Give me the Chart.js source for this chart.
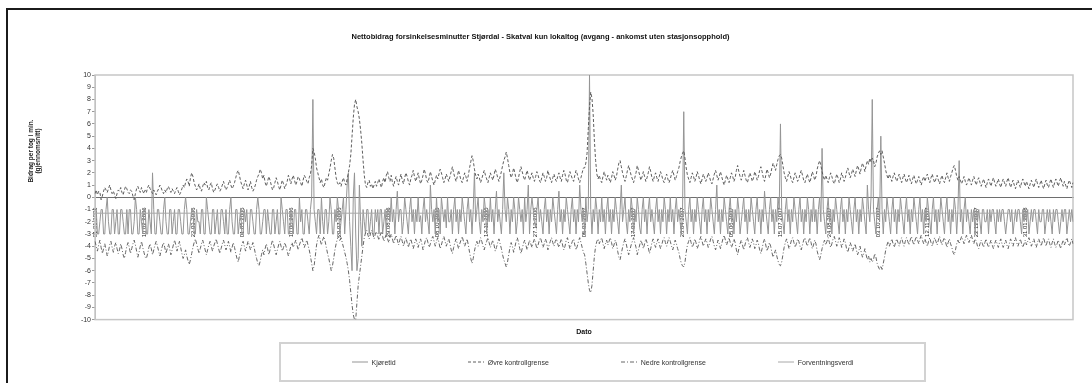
<!DOCTYPE html>
<html lang="no">
  <head>
    <meta charset="UTF-8" />
    <title>Nettobidrag forsinkelsesminutter Stjørdal - Skatval</title>
    <script src="https://cdn.jsdelivr.net/npm/chart.js"></script>
    <style>
      body { margin: 0; background: #fff; font-family: "Liberation Sans", Arial, sans-serif; }
      #frame {
        position: absolute; left: 6px; top: 8px; width: 1086px; height: 375px;
        border-top: 2px solid #1b1b1b; border-left: 2px solid #1b1b1b; box-sizing: border-box;
      }
      #wrap { position: relative; width: 1084px; height: 373px; }
      #legend {
        position: absolute; left: 279px; top: 342px; width: 647px; height: 40px;
        border: 2px solid #d2d2d2; box-sizing: border-box;
        display: flex; align-items: center; justify-content: center; gap: 72px;
        font-size: 7px; color: #333;
      }
      #legend span.item { display: flex; align-items: center; gap: 4px; }
    </style>
  </head>
  <body>
    <div id="frame">
      <div id="wrap"><canvas id="chart"></canvas></div>
    </div>
    <div id="legend"></div>

    <script>
      // daily observations, one date label every 40 days
      const startDate = new Date(2006, 0, 1);
      const labelEvery = 40;

      // Kjøretid (bidrag per tog, min)
      const kjoretid = [
        -1,-1,-3,-3,-2,-1,-1,-3,-3,-1,0,-2,-3,-3,-1,-1,-3,-2,-1,-3,
        -3,-1,-1,-2,-3,-3,-1,-3,-1,-1,-3,-3,-2,0,-1,-3,-3,-1,-2,-3,
        -1,-1,-3,-3,-1,-2,-3,2,-1,-3,-3,-1,-1,-2,-3,-3,-1,0,-2,-3,
        -3,-1,-1,-3,-2,-1,-3,-3,-1,-1,-2,-3,-3,-1,0,-1,-3,-3,-2,-1,
        -1,-3,-3,-1,-2,-2,-3,-1,-1,-3,-3,0,-1,-2,-3,-3,-1,-1,-3,-2,
        -1,-3,-3,-1,-1,-2,-3,-1,-3,-3,-1,0,-2,-3,-3,-1,-1,-3,-2,-1,
        -3,-3,-1,-2,-1,-3,-3,-1,-1,-2,-3,-3,-1,0,-1,-3,-3,-2,-1,-1,
        -3,-1,-2,-3,-3,-1,-1,-3,-2,-1,-3,-3,0,-1,-2,-3,-1,-1,-3,-3,
        -1,-2,-3,-1,-1,-3,-3,0,-2,-1,-3,-3,-1,-1,-2,-3,-1,0,8,-1,
        -2,-3,-1,-1,-3,0,-2,-3,-1,-1,-3,-2,0,-1,-3,-3,-1,-2,0,-1,
        -3,-2,-1,0,-3,-1,1,2,-2,-4,-6,0,2,-3,-6,-5,1,-2,-4,-1,
        -2,-3,-1,-1,-3,-2,-1,-3,-3,-1,-2,-1,-3,-1,-1,-3,-2,-1,-3,-1,
        -1,-2,0,-2,-1,-3,-1,0.5,-2,-1,-1,-3,-2,0,-1,-2,-3,-1,0,-2,
        -1,-3,-1,-2,0,-2,-1.5,-3,-1,0,-2,-1,-2,-3,1,-1,-2,-1,-3,0,
        -2,-1,-3,0,-1,-2,-1,-2.5,0,-2,-2,-1,-3,-1,0,-2,-1,-3,-1,-2,
        0,-1,-2,-3,-1,0,-2,-1,-3,-1,2,-2,-1,0,-2,-3,-1,-2,0,-1,
        -3,-1,-2,0,-2,-1,-3,-1,0.5,-2,-1,-2,-3,-1,2,-1,-2,0,-1,-3,
        -1,-2,0,-1,-3,-2,0,-1,-2,-1,-3,0,-2,-1,1,-3,-1,0,-1,-2,
        -2.5,-1,0,-2,-1,-2,-3,-1,0,-2,-1,-3,-1,-2,0,-1,-2,-3,-1,0.5,
        -2,-1,-3,-1,-2,0,-1,-2,-3,-1,0,-2,-1,-3,-1,-2,1,-1,-2,-1,
        -3,0,-2,-1,10,-1,-3,-1,-2,0,-1,-3,-1,-2,0,-2,-1,-3,-1,0,
        -2,-1,-3,-1,-2,0,-1,-2,-3,-1,1,-2,-1,0,-2,-3,-1,-2,0,-1,
        -3,-1,-2,0,-1,-2.5,-3,-1,0,-2,-1,-3,-1,0,-2,-1,-2,-3,-1,0,
        -2,-1,-3,-1,-2,0,-1,-3,-1,-2,0,-2,-1,-3,-1,0,-2,-1,-2,-3,
        -1,7,-1,-2,-3,-1,0,-2,-1,-3,-1,-2,0,-1,-2,-3,-1,0,-2,-1,
        -3,-1,-2,0,-1,-2,-3,-1,1,-2,-1,-3,-1,-2,0,-1,-2,-3,-1,0,
        -2,-1,-3,-1,-2,0,-1,-3,-2,-1,0,-2,-1,-3,-1,-2,0,-1,-2,-3,
        -1,0,-2,-1,-3,-1,-2,0.5,-1,-2,-3,-1,0,-2,-1,-3,-1,-2,0,-1,
        6,-1,-2,-3,-1,0,-2,-1,-3,-1,-2,0,-1,-2,-3,-1,0,-2,-1,-3,
        -1,-2,0,-1,-3,-1,-2,0,-2,-1,-3,-1,0,-2,4,-1,-2,-3,-1,0,
        -2,-1,-3,-1,-2,0,-1,-2,-3,-1,0,-2,-1,-3,-1,-2,0,-1,-2,-3,
        -1,0,-2,-1,-3,-1,-2,0,-1,-2,-3,1,-1,-2,0,8,-1,-2,-3,-1,
        0,-2,5,-1,-3,-1,-2,0,-1,-2,-3,-1,0,-2,-1,-3,-1,-2,0,-1,
        -2,-3,-1,0,-2,-1,-3,-1,-2,0,-1,-2,-3,-1,0,-2,-1,-3,-1,-2,
        0,-1,-2,-3,-1,0,-2,-1,-3,-1,-2,0,-1,-2,-3,-1,0,-2,-1,-3,
        -1,-2,0,-1,-3,-1,3,-2,-1,-3,-1,0,-2,-1,-2,-3,-1,-2,-1,-3,
        -1,-2,-1,-2,-3,-1,-1,-2,-2,-1,-3,-1,-2,-1,-1,-2,-3,-1,-2,-1,
        -2,-1,-1,-2,-3,-2,-1,-1,-2,-1,-3,-2,-1,-2,-1,-1,-2,-3,-1,-2,
        -1,-2,-1,-3,-2,-1,-2,-1,-1,-2,-3,-1,-2,-2,-1,-1,-3,-2,-1,-2,
        -1,-2,-3,-1,-2,-1,-1,-2,-3,-2,-1,-2,-1,-1,-3,-2,-1,-2,-1,-2
      ];

      // Øvre kontrollgrense
      const ovreGrense = [
        0.3,0.6,0.2,0.5,0.4,-0.2,0.1,0.5,0.8,0.6,0.4,0.7,1.0,0.6,0.3,0.5,0.2,-0.1,0.3,0.6,
        0.5,0.8,0.4,0.2,0.6,0.9,0.7,0.4,0.3,0.6,0.5,0.1,-0.2,0.3,0.7,0.9,0.6,0.4,0.8,0.5,
        0.3,0.6,0.4,0.8,1.0,0.7,0.5,0.3,0.6,0.4,0.2,0.5,0.7,1.0,0.8,0.5,0.3,0.6,0.4,0.7,
        0.9,0.6,0.4,0.7,0.5,0.3,0.6,0.8,0.5,0.2,0.4,0.7,1.0,0.8,1.2,1.5,1.3,0.9,1.6,2.0,
        1.7,1.2,0.9,0.6,0.8,1.1,0.7,0.5,0.9,1.2,1.0,1.3,0.8,0.6,1.0,1.2,0.7,0.4,0.6,0.9,
        1.1,0.8,0.5,0.7,1.0,1.3,0.9,0.6,0.8,1.1,1.4,1.0,0.7,0.9,1.2,1.6,2.0,2.2,1.8,1.3,
        1.0,0.7,1.1,1.4,1.0,0.6,0.9,1.3,0.8,0.5,0.7,1.0,1.4,1.7,1.9,2.3,2.0,1.5,1.8,1.2,
        0.9,1.3,1.7,1.4,1.0,0.6,0.8,1.2,1.6,1.3,0.9,0.6,1.0,1.4,1.1,0.7,1.0,1.3,1.8,1.5,
        1.1,1.5,1.8,1.4,1.0,1.3,1.7,1.5,1.2,0.9,1.4,1.8,1.6,1.3,1.1,1.6,1.9,2.6,4.0,3.7,
        3.2,2.4,2.0,1.6,1.2,1.5,1.0,0.8,1.2,1.6,1.4,1.9,2.4,3.0,3.5,3.2,2.4,1.6,1.2,1.0,
        1.2,0.9,1.3,1.6,1.2,1.0,1.5,2.0,2.6,3.5,5.0,6.5,7.6,8.0,7.4,7.0,6.4,5.5,4.4,3.0,
        1.8,1.0,0.8,1.2,1.4,0.9,1.1,0.7,1.0,1.3,0.9,1.2,1.5,1.1,0.8,1.3,1.6,1.2,1.8,2.1,
        1.6,1.3,1.8,1.2,0.9,1.4,1.7,1.3,1.0,1.5,1.9,1.4,1.1,1.6,2.0,1.7,1.3,1.0,1.5,1.8,
        2.2,1.7,1.3,1.6,2.0,1.5,1.1,1.4,1.8,2.3,1.9,1.4,1.2,1.6,2.1,1.7,1.3,1.0,1.4,1.8,
        1.5,1.9,2.3,2.0,1.6,1.2,1.5,1.9,1.6,1.3,1.7,2.1,2.5,2.0,1.6,1.3,1.7,2.2,1.8,1.4,
        1.2,1.6,2.0,1.7,1.3,1.8,2.4,2.9,3.4,3.0,2.3,1.8,1.5,1.9,1.6,1.2,1.5,1.9,2.2,1.8,
        1.5,1.2,1.6,2.0,1.7,1.4,1.8,2.3,2.0,1.6,1.3,1.7,2.1,2.6,3.0,3.3,3.7,3.2,2.6,2.0,
        1.6,1.9,2.4,2.0,1.5,1.2,1.6,2.1,2.5,2.1,1.7,1.4,1.8,2.2,1.8,1.4,1.7,2.0,1.6,1.3,
        1.7,2.1,1.8,1.4,1.2,1.6,2.0,1.7,1.3,1.6,2.2,1.8,1.5,1.2,1.6,1.9,1.5,1.3,1.7,2.0,
        1.6,1.3,1.8,2.2,1.9,1.4,1.2,1.7,2.1,1.8,1.5,1.3,1.8,2.2,1.9,1.5,1.2,1.6,2.0,2.4,
        2.4,2.8,3.6,5.6,7.4,8.6,8.1,6.8,4.6,3.0,1.9,1.5,1.8,1.4,1.2,1.7,2.1,1.7,1.4,1.8,
        1.5,1.2,1.6,2.1,1.8,1.4,1.7,2.3,2.8,3.0,2.5,2.0,1.6,1.3,1.7,2.2,2.6,2.2,1.8,1.5,
        1.2,1.6,2.0,2.6,2.2,1.8,1.4,1.7,2.1,1.7,1.3,1.6,2.0,2.5,2.1,1.6,1.3,1.7,2.0,1.6,
        1.3,1.7,2.1,1.8,1.4,1.2,1.6,1.9,1.5,1.2,1.5,1.9,2.2,1.8,1.4,1.7,2.1,2.4,2.9,3.3,
        3.6,3.8,3.2,2.4,1.8,1.5,1.2,1.6,2.0,1.7,1.3,1.6,2.1,1.8,1.4,1.1,1.5,1.9,1.6,1.3,
        1.6,2.0,1.7,1.3,1.1,1.5,1.9,2.2,1.8,1.4,1.7,2.1,1.7,1.3,1.0,1.4,1.8,1.5,1.2,1.6,
        2.0,1.7,1.3,1.6,2.2,2.6,2.1,1.7,1.4,1.8,2.2,1.8,1.4,1.2,1.6,2.0,1.7,1.3,1.6,2.1,
        1.8,1.4,1.7,2.2,2.5,2.1,1.6,1.3,1.8,2.3,2.0,1.6,1.9,2.4,2.8,2.5,2.2,2.7,3.1,3.4,
        3.5,3.2,2.6,2.0,1.6,1.3,1.7,2.1,1.8,1.4,1.2,1.6,2.0,1.7,1.3,1.5,1.9,2.2,1.8,1.4,
        1.2,1.6,1.9,1.5,1.2,1.6,2.1,1.8,1.4,1.7,2.3,2.7,3.0,2.6,2.1,1.7,1.4,1.8,1.5,1.2,
        1.6,2.0,1.7,1.3,1.1,1.5,1.9,1.6,1.2,1.5,2.0,1.7,1.3,1.6,2.1,2.4,2.0,1.6,1.9,2.3,
        2.0,1.7,2.2,2.6,2.3,1.9,2.4,2.8,2.5,2.1,2.6,3.0,2.7,3.2,2.9,3.2,3.0,2.5,2.8,3.3,
        3.6,3.8,3.5,3.8,3.3,2.8,2.2,1.8,1.5,1.9,1.6,1.3,1.7,2.0,1.6,1.3,1.6,1.9,1.5,1.2,
        1.6,1.9,1.5,1.2,1.5,1.8,1.4,1.1,1.5,1.8,1.4,1.1,1.4,1.7,1.3,1.0,1.4,1.7,1.3,1.6,
        1.9,1.5,1.2,1.6,1.9,1.5,1.2,1.5,1.8,1.4,1.1,1.5,1.8,1.4,1.2,1.6,2.0,1.6,1.3,1.7,
        2.0,2.4,2.6,2.2,1.7,1.4,1.7,1.4,1.1,1.4,1.7,1.3,1.0,1.3,1.6,1.3,1.0,1.4,1.7,1.3,
        1.0,1.4,1.6,1.2,0.9,1.2,1.5,1.1,0.8,1.2,1.5,1.2,0.9,1.3,1.6,1.2,0.9,1.2,1.5,1.1,
        0.8,1.2,1.5,1.2,0.9,1.3,1.6,1.2,0.8,1.1,1.4,1.0,0.7,1.1,1.4,1.1,0.8,1.2,1.5,1.2,
        0.9,1.3,1.0,0.7,1.1,1.4,1.1,0.8,1.2,1.5,1.1,0.8,1.1,1.4,1.0,0.7,1.1,1.4,1.0,0.8,
        1.2,1.5,1.1,0.8,1.2,1.5,1.2,0.9,1.3,1.6,1.2,0.9,1.3,1.0,0.7,1.1,1.4,1.1,0.8,1.2
      ];

      // Nedre kontrollgrense
      const nedreGrense = [
        -3.6,-4.0,-4.4,-3.9,-3.5,-4.1,-4.6,-4.2,-3.8,-4.3,-4.8,-4.4,-3.9,-3.6,-4.1,-4.5,-4.0,-3.7,-4.2,-4.6,
        -4.3,-3.8,-4.2,-4.7,-5.0,-4.5,-4.0,-3.7,-4.1,-4.6,-4.2,-3.8,-3.5,-3.9,-4.4,-4.9,-4.5,-4.0,-3.6,-4.1,
        -4.5,-4.9,-5.0,-4.6,-4.1,-3.8,-4.2,-4.7,-4.3,-3.9,-3.6,-4.0,-4.4,-4.8,-4.4,-4.0,-3.7,-4.1,-4.6,-4.2,
        -3.8,-4.2,-4.7,-4.3,-3.9,-3.5,-3.9,-4.4,-4.0,-3.6,-4.1,-4.6,-5.0,-4.7,-4.3,-4.8,-5.2,-5.5,-5.1,-4.6,
        -4.1,-3.7,-3.4,-3.8,-4.2,-4.6,-4.2,-3.8,-3.5,-3.9,-4.3,-4.7,-4.3,-3.9,-3.6,-4.0,-4.4,-4.0,-3.7,-3.4,
        -3.8,-4.2,-4.6,-4.2,-3.8,-3.5,-3.9,-4.3,-4.0,-3.6,-4.0,-4.5,-4.1,-3.7,-4.1,-4.6,-5.0,-5.3,-4.8,-4.3,
        -3.9,-3.6,-4.0,-4.4,-4.0,-3.6,-3.9,-4.3,-4.0,-3.7,-4.1,-4.6,-5.0,-5.4,-5.6,-5.2,-4.7,-4.3,-4.7,-4.2,
        -3.8,-4.2,-4.7,-4.3,-3.9,-3.5,-3.9,-4.3,-4.7,-4.3,-3.9,-3.6,-4.0,-4.4,-4.1,-3.7,-4.0,-4.4,-4.8,-4.4,
        -4.0,-3.7,-4.1,-3.8,-3.5,-3.9,-4.3,-3.9,-3.6,-3.3,-3.7,-4.1,-3.8,-3.5,-3.9,-4.3,-4.8,-5.4,-6.0,-5.6,
        -4.8,-3.9,-3.4,-3.1,-3.5,-3.9,-3.5,-3.2,-3.6,-4.1,-4.6,-5.0,-5.5,-6.0,-5.6,-5.0,-4.3,-3.8,-3.4,-3.2,
        -3.6,-3.3,-3.7,-4.1,-4.5,-4.9,-5.4,-6.0,-6.8,-7.8,-8.8,-9.6,-10.0,-10.0,-8.6,-7.2,-6.4,-5.6,-4.8,-4.0,
        -3.3,-2.9,-2.7,-3.1,-3.4,-3.0,-2.7,-3.0,-3.4,-3.0,-2.8,-3.2,-3.5,-3.1,-2.8,-3.2,-3.6,-3.3,-3.0,-3.4,
        -3.7,-3.3,-3.0,-3.4,-3.8,-3.4,-3.1,-3.5,-3.9,-3.5,-3.2,-3.6,-4.0,-3.6,-3.3,-3.7,-4.1,-3.7,-3.4,-3.8,
        -4.2,-3.8,-3.4,-3.7,-4.1,-3.7,-3.4,-3.8,-4.3,-3.9,-3.5,-3.3,-3.7,-4.1,-3.8,-3.4,-3.2,-3.6,-4.0,-3.6,
        -3.3,-3.7,-4.2,-3.9,-3.5,-3.2,-3.6,-4.0,-3.7,-3.4,-3.8,-4.3,-4.6,-4.1,-3.7,-3.4,-3.8,-4.2,-3.8,-3.5,
        -3.2,-3.6,-4.0,-3.7,-3.4,-3.9,-4.5,-5.0,-5.4,-5.0,-4.4,-3.9,-3.6,-4.0,-3.7,-3.3,-3.6,-4.0,-4.3,-3.9,
        -3.6,-3.3,-3.7,-4.1,-3.8,-3.5,-3.9,-4.4,-4.1,-3.7,-3.4,-3.8,-4.2,-4.7,-5.1,-5.4,-5.7,-5.3,-4.7,-4.1,
        -3.7,-4.0,-4.5,-4.1,-3.6,-3.3,-3.7,-4.2,-4.6,-4.2,-3.8,-3.5,-3.9,-4.3,-3.9,-3.5,-3.8,-4.1,-3.7,-3.4,
        -3.8,-4.2,-3.9,-3.5,-3.3,-3.7,-4.1,-3.8,-3.4,-3.7,-4.3,-3.9,-3.6,-3.3,-3.7,-4.0,-3.6,-3.4,-3.8,-4.1,
        -3.7,-3.4,-3.9,-4.3,-4.0,-3.5,-3.3,-3.8,-4.2,-3.9,-3.6,-3.4,-3.9,-4.3,-4.0,-3.6,-3.3,-3.7,-4.1,-4.5,
        -4.7,-5.4,-6.2,-7.0,-7.6,-7.8,-7.2,-6.0,-4.8,-4.0,-3.6,-3.4,-3.8,-3.5,-3.3,-3.8,-4.2,-3.8,-3.5,-3.9,
        -3.6,-3.3,-3.7,-4.2,-3.9,-3.5,-3.8,-4.4,-4.9,-5.1,-4.6,-4.1,-3.7,-3.4,-3.8,-4.3,-4.7,-4.3,-3.9,-3.6,
        -3.3,-3.7,-4.1,-4.7,-4.3,-3.9,-3.5,-3.8,-4.2,-3.8,-3.4,-3.7,-4.1,-4.6,-4.2,-3.7,-3.4,-3.8,-4.1,-3.7,
        -3.4,-3.8,-4.2,-3.9,-3.5,-3.3,-3.7,-4.0,-3.6,-3.3,-3.6,-4.0,-4.3,-3.9,-3.5,-3.8,-4.2,-4.5,-5.0,-5.4,
        -5.6,-5.7,-5.3,-4.5,-3.9,-3.6,-3.3,-3.7,-4.1,-3.8,-3.4,-3.7,-4.2,-3.9,-3.5,-3.2,-3.6,-4.0,-3.7,-3.4,
        -3.7,-4.1,-3.8,-3.4,-3.2,-3.6,-4.0,-4.3,-3.9,-3.5,-3.8,-4.2,-3.8,-3.4,-3.1,-3.5,-3.9,-3.6,-3.3,-3.7,
        -4.1,-3.8,-3.4,-3.7,-4.3,-4.7,-4.2,-3.8,-3.5,-3.9,-4.3,-3.9,-3.5,-3.3,-3.7,-4.1,-3.8,-3.4,-3.7,-4.2,
        -3.9,-3.5,-3.8,-4.3,-4.6,-4.2,-3.7,-3.4,-3.9,-4.4,-4.1,-3.7,-4.0,-4.5,-4.9,-4.6,-4.3,-4.8,-5.2,-5.5,
        -5.6,-5.3,-4.7,-4.1,-3.7,-3.4,-3.8,-4.2,-3.9,-3.5,-3.3,-3.7,-4.1,-3.8,-3.4,-3.6,-4.0,-4.3,-3.9,-3.5,
        -3.3,-3.7,-4.0,-3.6,-3.3,-3.7,-4.2,-3.9,-3.5,-3.8,-4.4,-4.8,-5.1,-4.7,-4.2,-3.8,-3.5,-3.9,-3.6,-3.3,
        -3.7,-4.1,-3.8,-3.4,-3.2,-3.6,-4.0,-3.7,-3.3,-3.6,-4.1,-3.8,-3.4,-3.7,-4.2,-4.5,-4.1,-3.7,-4.0,-4.4,
        -4.1,-3.8,-4.3,-4.7,-4.4,-4.0,-4.5,-4.9,-4.6,-4.2,-4.7,-5.1,-4.8,-5.3,-5.0,-5.3,-5.1,-4.6,-4.9,-5.4,
        -5.7,-5.9,-5.6,-5.9,-5.4,-4.9,-4.3,-3.9,-3.6,-4.0,-3.7,-3.4,-3.8,-4.1,-3.7,-3.4,-3.7,-4.0,-3.6,-3.3,
        -3.7,-4.0,-3.6,-3.3,-3.6,-3.9,-3.5,-3.2,-3.6,-3.9,-3.5,-3.2,-3.5,-3.8,-3.4,-3.1,-3.5,-3.8,-3.4,-3.7,
        -4.0,-3.6,-3.3,-3.7,-4.0,-3.6,-3.3,-3.6,-3.9,-3.5,-3.2,-3.6,-3.9,-3.5,-3.3,-3.7,-4.1,-3.7,-3.4,-3.8,
        -4.1,-4.5,-4.7,-4.3,-3.8,-3.5,-3.8,-3.5,-3.2,-3.5,-3.8,-3.4,-3.1,-3.4,-3.7,-3.4,-3.1,-3.5,-3.8,-3.4,
        -3.6,-4.0,-4.2,-3.8,-3.5,-3.8,-4.1,-3.7,-3.4,-3.8,-4.1,-3.8,-3.5,-3.9,-4.2,-3.8,-3.5,-3.8,-4.1,-3.7,
        -3.4,-3.8,-4.1,-3.8,-3.5,-3.9,-4.2,-3.8,-3.4,-3.7,-4.0,-3.6,-3.3,-3.7,-4.0,-3.7,-3.4,-3.8,-4.1,-3.8,
        -3.5,-3.9,-3.6,-3.3,-3.7,-4.0,-3.7,-3.4,-3.8,-4.1,-3.7,-3.4,-3.7,-4.0,-3.6,-3.3,-3.7,-4.0,-3.6,-3.4,
        -3.8,-4.1,-3.7,-3.4,-3.8,-4.1,-3.8,-3.5,-3.9,-4.2,-3.8,-3.5,-3.9,-3.6,-3.3,-3.7,-4.0,-3.7,-3.4,-3.8
      ];

      // Forventningsverdi (constant)
      const forventningsverdi = -1.3;

      const yTicks = { min: -10, max: 10, step: 1 };

      // date categories dd.mm.yyyy
      const datoer = [];
      for (let i = 0; i < kjoretid.length; i++) {
        const d = new Date(startDate.getTime() + i * 86400000);
        const dd = String(d.getDate()).padStart(2, "0");
        const mm = String(d.getMonth() + 1).padStart(2, "0");
        datoer.push(`${dd}.${mm}.${d.getFullYear()}`);
      }

      const font = "'Liberation Sans', Arial, sans-serif";

      // light grey frame round the plot area
      const plotFrame = {
        id: "plotFrame",
        beforeDatasetsDraw(chart) {
          const { ctx, chartArea: a } = chart;
          ctx.save();
          ctx.strokeStyle = "#c6c6c6";
          ctx.lineWidth = 1.5;
          ctx.strokeRect(a.left, a.top, a.right - a.left, a.bottom - a.top);
          ctx.restore();
        },
      };

      // two line rotated y axis title
      const yTitle = {
        id: "yTitle",
        afterDraw(chart) {
          const ctx = chart.ctx;
          ctx.save();
          ctx.translate(27, 141);
          ctx.rotate(-Math.PI / 2);
          ctx.font = `bold 6.5px ${font}`;
          ctx.fillStyle = "#222";
          ctx.textAlign = "center";
          ctx.textBaseline = "middle";
          ctx.fillText("Bidrag per tog i min.", 0, -3.5);
          ctx.fillText("(gjennomsnitt)", 0, 3.5);
          ctx.restore();
        },
      };

      const chart = new Chart(document.getElementById("chart"), {
        type: "line",
        data: {
          labels: datoer,
          datasets: [
            {
              label: "Kjøretid",
              data: kjoretid,
              borderColor: "#959595",
              borderWidth: 1,
              order: 3,
            },
            {
              label: "Øvre kontrollgrense",
              data: ovreGrense,
              borderColor: "#5e5e5e",
              borderWidth: 1,
              borderDash: [3, 2],
              order: 1,
            },
            {
              label: "Nedre kontrollgrense",
              data: nedreGrense,
              borderColor: "#666666",
              borderWidth: 1,
              borderDash: [4, 2, 1, 2],
              order: 1,
            },
            {
              label: "Forventningsverdi",
              data: [
                { x: datoer[0], y: forventningsverdi },
                { x: datoer[datoer.length - 1], y: forventningsverdi },
              ],
              borderColor: "#a8a8a8",
              borderWidth: 1,
              order: 2,
            },
          ],
        },
        options: {
          responsive: true,
          maintainAspectRatio: false,
          animation: false,
          events: [],
          elements: { point: { radius: 0 }, line: { tension: 0 } },
          layout: { padding: { left: 0, right: 19, top: 0, bottom: 47 } },
          plugins: {
            legend: { display: false },
            tooltip: { enabled: false },
            title: {
              display: true,
              text: "Nettobidrag forsinkelsesminutter Stjørdal - Skatval kun lokaltog (avgang - ankomst uten stasjonsopphold)",
              color: "#111",
              font: { family: font, size: 7.5, weight: "bold" },
              padding: { top: 22, bottom: 34 },
            },
            subtitle: {
              display: true,
              position: "bottom",
              fullSize: false,
              text: "Dato",
              color: "#111",
              font: { family: font, size: 7, weight: "bold" },
              padding: { top: 8, bottom: 0 },
            },
          },
          scales: {
            x: {
              position: { y: 0 },
              grid: { display: false },
              border: { display: true, color: "#6e6e6e", width: 1 },
              ticks: {
                autoSkip: false,
                minRotation: 90,
                maxRotation: 90,
                padding: 2,
                color: "#222",
                font: { family: font, size: 6 },
                callback: (v, i) => (i % labelEvery === 0 ? datoer[i] : ""),
              },
            },
            y: {
              min: yTicks.min,
              max: yTicks.max,
              afterFit(scale) {
                scale.width = 87;
              },
              grid: { drawOnChartArea: false, tickLength: 3, color: "#999" },
              border: { color: "#b5b5b5" },
              ticks: {
                stepSize: yTicks.step,
                padding: 1,
                color: "#333",
                font: { family: font, size: 7 },
              },
            },
          },
        },
        plugins: [plotFrame, yTitle],
      });

      // legend built from the datasets
      const legendDiv = document.getElementById("legend");
      legendDiv.innerHTML = chart.data.datasets
        .map(
          (ds) => `
            <span class="item">
              <svg width="16" height="4"><line x1="0" y1="2" x2="16" y2="2"
                stroke="${ds.borderColor}" stroke-width="1"
                stroke-dasharray="${(ds.borderDash || []).join(" ")}"/></svg>
              <span>${ds.label}</span>
            </span>`
        )
        .join("");
    </script>
  </body>
</html>
